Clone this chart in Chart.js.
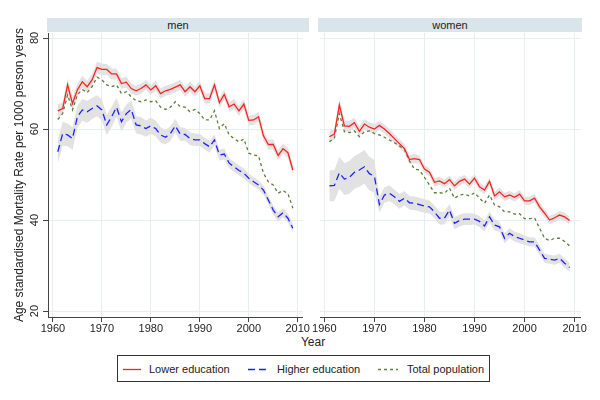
<!DOCTYPE html>
<html>
<head>
<meta charset="utf-8">
<script src="https://cdn.jsdelivr.net/npm/chart.js@4.4.1/dist/chart.umd.min.js"></script>
<style>
  body { margin: 0; background: #fff; font-family: "Liberation Sans", Arial, sans-serif; color: #222; }
  #wrap { position: relative; width: 600px; height: 400px; overflow: hidden; }
  canvas { position: absolute; top: 0; }
  .strip { position: absolute; top: 18px; height: 14px; background: #d9e5ea; font-size: 11px; line-height: 14px; text-align: center; }
  #xtitle { position: absolute; left: 263px; width: 100px; top: 335px; text-align: center; font-size: 12px; }
  #legend { position: absolute; left: 117px; top: 355px; width: 371px; height: 25px; border: 1px solid #333; font-size: 11px; }
  .item { position: absolute; top: 6px; line-height: 14px; white-space: nowrap; }
  .item svg { position: absolute; top: 6px; }
</style>
</head>
<body>
<div id="wrap">
  <canvas id="men_chart" width="310" height="335" style="left:0px"></canvas>
  <canvas id="women_chart" width="275" height="335" style="left:312px"></canvas>
  <div class="strip" style="left:47px;width:262px">men</div>
  <div class="strip" style="left:318px;width:264px">women</div>
  <div id="xtitle">Year</div>
  <div id="legend"></div>
</div>
<script>
'use strict';
//** Data */

let years = [1961, 1962, 1963, 1964, 1965, 1966, 1967, 1968, 1969, 1970,
  1971, 1972, 1973, 1974, 1975, 1976, 1977, 1978, 1979, 1980,
  1981, 1982, 1983, 1984, 1985, 1986, 1987, 1988, 1989, 1990,
  1991, 1992, 1993, 1994, 1995, 1996, 1997, 1998, 1999, 2000,
  2001, 2002, 2003, 2004, 2005, 2006, 2007, 2008, 2009];

let menlower = [64.0, 64.5, 69.7, 65.6, 68.6, 70.4, 69.3, 70.8, 73.5, 73.1,
  73.1, 72.1, 72.1, 70.0, 70.3, 68.9, 68.4, 68.9, 69.7, 68.6,
  69.5, 67.8, 68.4, 68.7, 69.2, 69.7, 68.2, 69.3, 68.2, 69.5,
  66.7, 66.7, 69.7, 65.8, 67.6, 64.9, 65.5, 64.0, 65.5, 61.9,
  62.0, 62.7, 58.5, 56.6, 56.6, 54.2, 55.7, 54.8, 51.0];

let menhigher = [55.0, 59.0, 58.7, 57.9, 62.7, 64.2, 63.8, 64.5, 65.1, 64.2,
  60.9, 62.7, 64.8, 61.6, 63.4, 64.3, 60.9, 60.7, 60.1, 60.7,
  60.1, 58.7, 58.2, 59.0, 60.7, 58.9, 58.8, 57.9, 57.6, 57.6,
  56.8, 56.1, 57.6, 54.3, 54.5, 52.5, 51.7, 50.9, 50.3, 49.2,
  48.4, 47.7, 46.6, 44.4, 42.2, 40.7, 41.6, 40.4, 38.2];

let mentotal = [62.1, 63.4, 67.5, 64.2, 67.5, 68.7, 68.0, 69.3, 71.4, 70.8,
  69.7, 69.3, 69.7, 67.8, 68.2, 67.1, 66.2, 66.0, 66.4, 66.0,
  66.2, 64.8, 64.3, 64.8, 66.0, 64.9, 64.8, 63.8, 64.3, 63.4,
  62.0, 62.0, 64.0, 60.1, 61.2, 58.7, 57.9, 57.2, 57.8, 54.7,
  54.3, 54.1, 50.3, 48.4, 47.7, 45.9, 46.5, 45.8, 42.6];

let womenlower = [58.3, 58.9, 65.3, 60.7, 60.6, 61.4, 59.5, 61.1, 60.4, 60.0,
  60.8, 60.0, 59.0, 57.9, 56.8, 55.7, 53.3, 53.5, 53.3, 51.2,
  50.5, 48.3, 48.6, 48.0, 48.9, 47.5, 48.5, 49.0, 47.9, 49.2,
  47.3, 46.6, 48.5, 45.3, 46.2, 45.1, 45.5, 45.0, 45.7, 44.2,
  44.2, 44.8, 42.9, 41.5, 40.0, 40.5, 41.1, 40.7, 39.9];

let womenhigher = [47.5, 47.6, 50.4, 49.0, 49.4, 50.5, 51.0, 51.7, 50.2, 49.6,
  43.4, 45.5, 45.9, 45.1, 44.1, 44.8, 43.8, 43.7, 43.4, 43.1,
  42.9, 41.8, 40.4, 40.4, 42.2, 39.3, 39.9, 40.2, 40.2, 40.2,
  39.7, 38.7, 40.7, 38.9, 38.5, 36.0, 37.1, 36.4, 36.0, 35.6,
  35.2, 35.2, 33.4, 31.6, 31.4, 31.2, 31.6, 30.5, 29.6];

let womentotal = [57.2, 58.0, 63.4, 59.4, 59.2, 59.6, 58.3, 59.4, 59.6, 59.0,
  58.7, 58.2, 57.6, 57.0, 56.3, 55.5, 53.0, 51.2, 51.0, 49.4,
  47.7, 46.0, 46.0, 45.9, 47.0, 44.8, 45.5, 45.7, 45.3, 46.0,
  44.8, 43.7, 45.5, 43.3, 42.9, 41.8, 41.8, 41.3, 41.4, 40.3,
  40.3, 40.5, 38.2, 36.0, 35.5, 36.0, 36.0, 35.3, 34.3];

// half width of the grey confidence bands
let menlowerci = [1.4, 1.4, 1.4, 1.4, 1.3, 1.3, 1.3, 1.3, 1.3, 1.3,
  1.2, 1.2, 1.2, 1.2, 1.2, 1.1, 1.1, 1.1, 1.1, 1.1,
  1.1, 1.1, 1.1, 1.1, 1.1, 1.1, 1.1, 1.1, 1.1, 1.1,
  1.1, 1.1, 1.1, 1.1, 1.1, 1.1, 1.1, 1.1, 1.1, 1.1,
  1.1, 1.1, 1.1, 1.1, 1.1, 1.1, 1.1, 1.1, 1.1];

let menhigherci = [2.6, 2.6, 2.5, 2.5, 2.4, 2.4, 2.4, 2.3, 2.3, 2.3,
  2.2, 2.2, 2.1, 2.1, 2.0, 2.0, 1.9, 1.9, 1.8, 1.8,
  1.7, 1.7, 1.6, 1.6, 1.5, 1.5, 1.4, 1.4, 1.4, 1.3,
  1.3, 1.3, 1.2, 1.2, 1.2, 1.1, 1.1, 1.1, 1.1, 1.0,
  1.0, 1.0, 1.0, 1.0, 1.0, 1.0, 1.0, 1.0, 1.0];

let womenlowerci = [1.2, 1.2, 1.2, 1.2, 1.2, 1.1, 1.1, 1.1, 1.1, 1.1,
  1.0, 1.0, 1.0, 1.0, 1.0, 1.0, 1.0, 1.0, 0.9, 0.9,
  0.9, 0.9, 0.9, 0.9, 0.9, 0.9, 0.9, 0.9, 0.9, 0.9,
  0.9, 0.9, 0.9, 0.9, 0.9, 0.9, 0.9, 0.9, 0.9, 0.9,
  0.9, 0.9, 0.9, 0.9, 0.9, 0.9, 0.9, 0.9, 0.9];

let womenhigherci = [3.4, 3.4, 3.5, 3.5, 3.6, 3.6, 3.7, 3.7, 3.7, 3.6,
  1.8, 1.7, 1.7, 1.6, 1.6, 1.6, 1.5, 1.5, 1.5, 1.5,
  1.4, 1.4, 1.4, 1.4, 1.3, 1.3, 1.3, 1.3, 1.3, 1.2,
  1.2, 1.2, 1.2, 1.2, 1.1, 1.1, 1.1, 1.1, 1.1, 1.0,
  1.0, 1.0, 1.0, 1.0, 1.0, 1.0, 1.0, 1.0, 1.0];

let xticks = [1960, 1970, 1980, 1990, 2000, 2010];
let yticks = [20, 40, 60, 80];

let ytitle = 'Age standardised Mortality Rate per 1000 person years';
let serieslabels = ['Lower education', 'Higher education', 'Total population'];
let seriescolors = ['#ff2020', '#2020ff', '#5d7d3a'];
let seriesdash = [[], [7, 4], [3, 3]];

//** Helpers */

function topoints(values, ci, sign){
  let pts = [];
  for (let i = 0; i < years.length; i++){
    let v = values[i];
    if (ci) { v = v + sign * ci[i]; }
    pts.push({x: years[i], y: v});
  }
  return pts;
}

function linedataset(values, idx){
  return {
    label: serieslabels[idx],
    data: topoints(values),
    borderColor: seriescolors[idx],
    borderDash: seriesdash[idx],
    borderWidth: 1.3,
    pointRadius: 0,
    fill: false
  };
}

function banddatasets(values, ci){
  return [{
    data: topoints(values, ci, 1),
    borderWidth: 0,
    borderColor: 'rgba(0,0,0,0)',
    pointRadius: 0,
    fill: false
  }, {
    data: topoints(values, ci, -1),
    borderWidth: 0,
    borderColor: 'rgba(0,0,0,0)',
    backgroundColor: '#e2e2e2',
    pointRadius: 0,
    fill: '-1'
  }];
}

let gridcolor = '#e6eef0';
let axiscolor = '#444';
let fontfamily = '"Liberation Sans", Arial, sans-serif';

// y tick labels and the y title are turned upright in Stata, so they are drawn here
let yaxisplugin = {
  id: 'yaxistext',
  afterDraw(chart){
    if (!chart.options.plugins.yaxistext.show) { return; }
    let c = chart.ctx;
    let ys = chart.scales.y;
    c.save();
    c.fillStyle = '#222';
    c.textAlign = 'center';
    c.textBaseline = 'middle';
    c.font = '11px ' + fontfamily;
    for (let i = 0; i < yticks.length; i++){
      let py = ys.getPixelForValue(yticks[i]);
      c.save();
      c.translate(35, py);
      c.rotate(-Math.PI / 2);
      c.fillText(String(yticks[i]), 0, 0);
      c.restore();
    }
    c.font = '12px ' + fontfamily;
    c.translate(20, (chart.chartArea.top + chart.chartArea.bottom) / 2);
    c.rotate(-Math.PI / 2);
    c.fillText(ytitle, 0, 0);
    c.restore();
  }
};

function makepanel(canvasid, lower, higher, total, lowerci, higherci, left, xmin, xmax){
  let datasets = [
    linedataset(lower, 0),
    linedataset(higher, 1),
    linedataset(total, 2)
  ].concat(banddatasets(lower, lowerci), banddatasets(higher, higherci));

  let chartObj = {
    type: 'line',
    data: { datasets: datasets },
    plugins: [yaxisplugin],
    options: {
      responsive: false,
      animation: false,
      devicePixelRatio: 1,
      layout: { padding: { top: 33, right: left ? 2 : 6, left: 0, bottom: 0 } },
      plugins: {
        legend: { display: false },
        tooltip: { enabled: false },
        yaxistext: { show: left }
      },
      scales: {
        x: {
          type: 'linear',
          min: xmin,
          max: xmax,
          afterBuildTicks: (scale) => { scale.ticks = xticks.map(v => ({value: v})); },
          afterFit: (scale) => { scale.height = 18; },
          grid: { color: gridcolor, tickColor: axiscolor, tickLength: 5 },
          border: { display: true, color: axiscolor, width: 1 },
          ticks: {
            color: '#222',
            padding: 0,
            maxRotation: 0,
            callback: (v) => String(v),
            font: { size: 11, family: fontfamily }
          }
        },
        y: {
          min: 18.7,
          max: 81.1,
          afterBuildTicks: (scale) => { scale.ticks = yticks.map(v => ({value: v})); },
          afterFit: (scale) => { scale.width = left ? 48 : 8; },
          grid: { color: gridcolor, tickColor: axiscolor, tickLength: 5, drawTicks: left },
          border: { display: left, color: axiscolor, width: 1 },
          ticks: { display: false }
        }
      }
    }
  };
  return new Chart(document.getElementById(canvasid), chartObj);
}

//** Charts */

makepanel('men_chart', menlower, menhigher, mentotal, menlowerci, menhigherci, true, 1959, 2011);
makepanel('women_chart', womenlower, womenhigher, womentotal, womenlowerci, womenhigherci, false, 1959.2, 2011.2);

//** Legend */

let legend = document.getElementById('legend');
let itempos = [[5, 31], [130, 159], [260, 289]];
let samplewidth = [18, 21, 20];
for (let i = 0; i < serieslabels.length; i++){
  let item = document.createElement('div');
  item.className = 'item';
  item.style.left = itempos[i][0] + 'px';
  let svg = '<svg width="' + samplewidth[i] + '" height="3" style="left:0px">' +
    '<line x1="0" y1="1.5" x2="' + samplewidth[i] + '" y2="1.5" stroke="' + seriescolors[i] +
    '" stroke-width="1.3" stroke-dasharray="' + (seriesdash[i].length ? seriesdash[i].join(',') : 'none') + '"/></svg>';
  item.innerHTML = svg + '<span style="position:absolute;left:' + (itempos[i][1] - itempos[i][0]) + 'px">' + serieslabels[i] + '</span>';
  legend.appendChild(item);
}
</script>
</body>
</html>
